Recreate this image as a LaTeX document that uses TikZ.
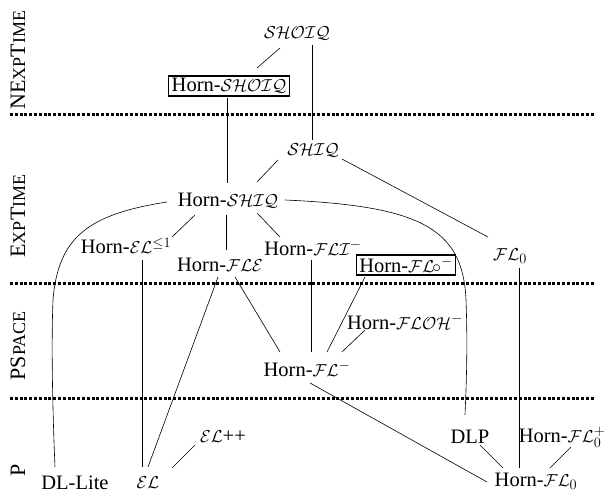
\documentclass[tikz,border=0pt]{standalone}
\usepackage{fontspec}
\setmainfont{Liberation Serif}
\DeclareMathSizes{20.5}{19}{13.5}{10}
\newcommand\smallcp[1]{{\fontsize{18}{18}\selectfont #1}}
\tikzset{
  lbl/.style={inner sep=0pt, font=\fontsize{20.5}{22}\selectfont},
  boxed/.style={lbl, draw, line width=1.4pt, inner xsep=3pt, inner ysep=2.5pt},
  edge/.style={line width=0.6pt},
  sep/.style={line width=3pt, dash pattern=on 3pt off 1.8pt},
  cls/.style={inner sep=0pt, rotate=90, font=\fontsize{22}{22}\selectfont}
}
\begin{document}
\begin{tikzpicture}[x=1pt,y=-1pt]
\useasboundingbox (0,0) rectangle (606,495);
% separators
\draw[sep] (10,115) -- (594,115);
\draw[sep] (10,283) -- (594,283);
\draw[sep] (10,398) -- (594,398);
% class labels
\node[cls] (cnexp) at (18,60) {NE\smallcp{XP}T\smallcp{IME}};
\node[cls] (cexp) at (18,216) {E\smallcp{XP}T\smallcp{IME}};
\node[cls] (cpsp) at (18,346) {PS\smallcp{PACE}};
\node[cls] (cp) at (18,470) {P};
% nodes
\node[lbl] (shoiq) at (297,33) {$\mathcal{SHOIQ}$};
\node[boxed] (hshoiq) at (229,86) {Horn-$\mathcal{SHOIQ}$};
\node[lbl] (shiq) at (313,150) {$\mathcal{SHIQ}$};
\node[lbl] (hshiq) at (228,201) {Horn-$\mathcal{SHIQ}$};
\node[lbl] (hel) at (126,246) {Horn-$\mathcal{EL}^{\leq 1}$};
\node[lbl] (hfle) at (220,265) {Horn-$\mathcal{FLE}$};
\node[lbl] (hfli) at (313,248) {Horn-$\mathcal{FLI}^{-}$};
\node[boxed] (hflo) at (406,265) {Horn-$\mathcal{FL}\mkern-2mu{\circ}^{-}$};
\node[lbl] (fl0) at (510,256) {$\mathcal{FL}_0$};
\node[lbl] (hfloh) at (405,322) {Horn-$\mathcal{FLOH}^{-}$};
\node[lbl] (hflm) at (307,369) {Horn-$\mathcal{FL}^{-}$};
\node[lbl] (dlp) at (470,437) {DLP};
\node[lbl] (hfl0p) at (562,437) {Horn-$\mathcal{FL}_0^{+}$};
\node[lbl] (hfl0) at (536,481) {Horn-$\mathcal{FL}_0$};
\node[lbl] (elpp) at (223,437) {$\mathcal{EL}$++};
\node[lbl] (el) at (148,483) {$\mathcal{EL}$};
\node[lbl] (dllite) at (75,483) {DL-Lite};
% edges
\draw[edge] ([shift={(-17,15)}]shoiq.center) -- ([shift={(28,-18)}]hshoiq.center);
\draw[edge] ([shift={(15,12)}]shoiq.center) -- ([shift={(-1,-10)}]shiq.center);
\draw[edge] ([shift={(-2,12)}]hshoiq.center) -- ([shift={(-1,-18)}]hshiq.center);
\draw[edge] ([shift={(-35,10)}]shiq.center) -- ([shift={(29,-19)}]hshiq.center);
\draw[edge] ([shift={(29,9)}]shiq.center) -- ([shift={(-22,-19)}]fl0.center);
\draw[edge] ([shift={(57,-1)}]hshiq.center) .. controls (420,206) and (463,228) .. (466,300)
  .. controls (468,350) and (466,390) .. ([shift={(-5,-22)}]dlp.center);
\draw[edge] ([shift={(-61,1)}]hshiq.center) .. controls (90,214) and (58,236) .. (53,300)
  .. controls (51,350) and (53,420) .. ([shift={(-20,-16)}]dllite.center);
\draw[edge] ([shift={(-33,14)}]hshiq.center) -- ([shift={(46,-9)}]hel.center);
\draw[edge] ([shift={(-2,14)}]hshiq.center) -- ([shift={(6,-15)}]hfle.center);
\draw[edge] ([shift={(29,12)}]hshiq.center) -- ([shift={(-33,-11)}]hfli.center);
\draw[edge] ([shift={(16,14)}]hel.center) -- ([shift={(-6,-16)}]el.center);
\draw[edge] ([shift={(-2,12)}]hfle.center) -- ([shift={(0,-16)}]el.center);
\draw[edge] ([shift={(15,12)}]hfle.center) -- ([shift={(-27,-17)}]hflm.center);
\draw[edge] ([shift={(-2,12)}]hfli.center) -- ([shift={(4,-17)}]hflm.center);
\draw[edge] ([shift={(-41,12)}]hflo.center) -- ([shift={(20,-17)}]hflm.center);
\draw[edge] ([shift={(-40,8)}]hfloh.center) -- ([shift={(35,-17)}]hflm.center);
\draw[edge] ([shift={(3,14)}]hflm.center) -- ([shift={(-49,1)}]hfl0.center);
\draw[edge] ([shift={(9,12)}]fl0.center) -- ([shift={(-17,-13)}]hfl0.center);
\draw[edge] ([shift={(10,8)}]dlp.center) -- ([shift={(-33,-13)}]hfl0.center);
\draw[edge] ([shift={(9,10)}]hfl0p.center) -- ([shift={(14,-13)}]hfl0.center);
\draw[edge] ([shift={(-28,8)}]elpp.center) -- ([shift={(24,-15)}]el.center);
\end{tikzpicture}
\end{document}
